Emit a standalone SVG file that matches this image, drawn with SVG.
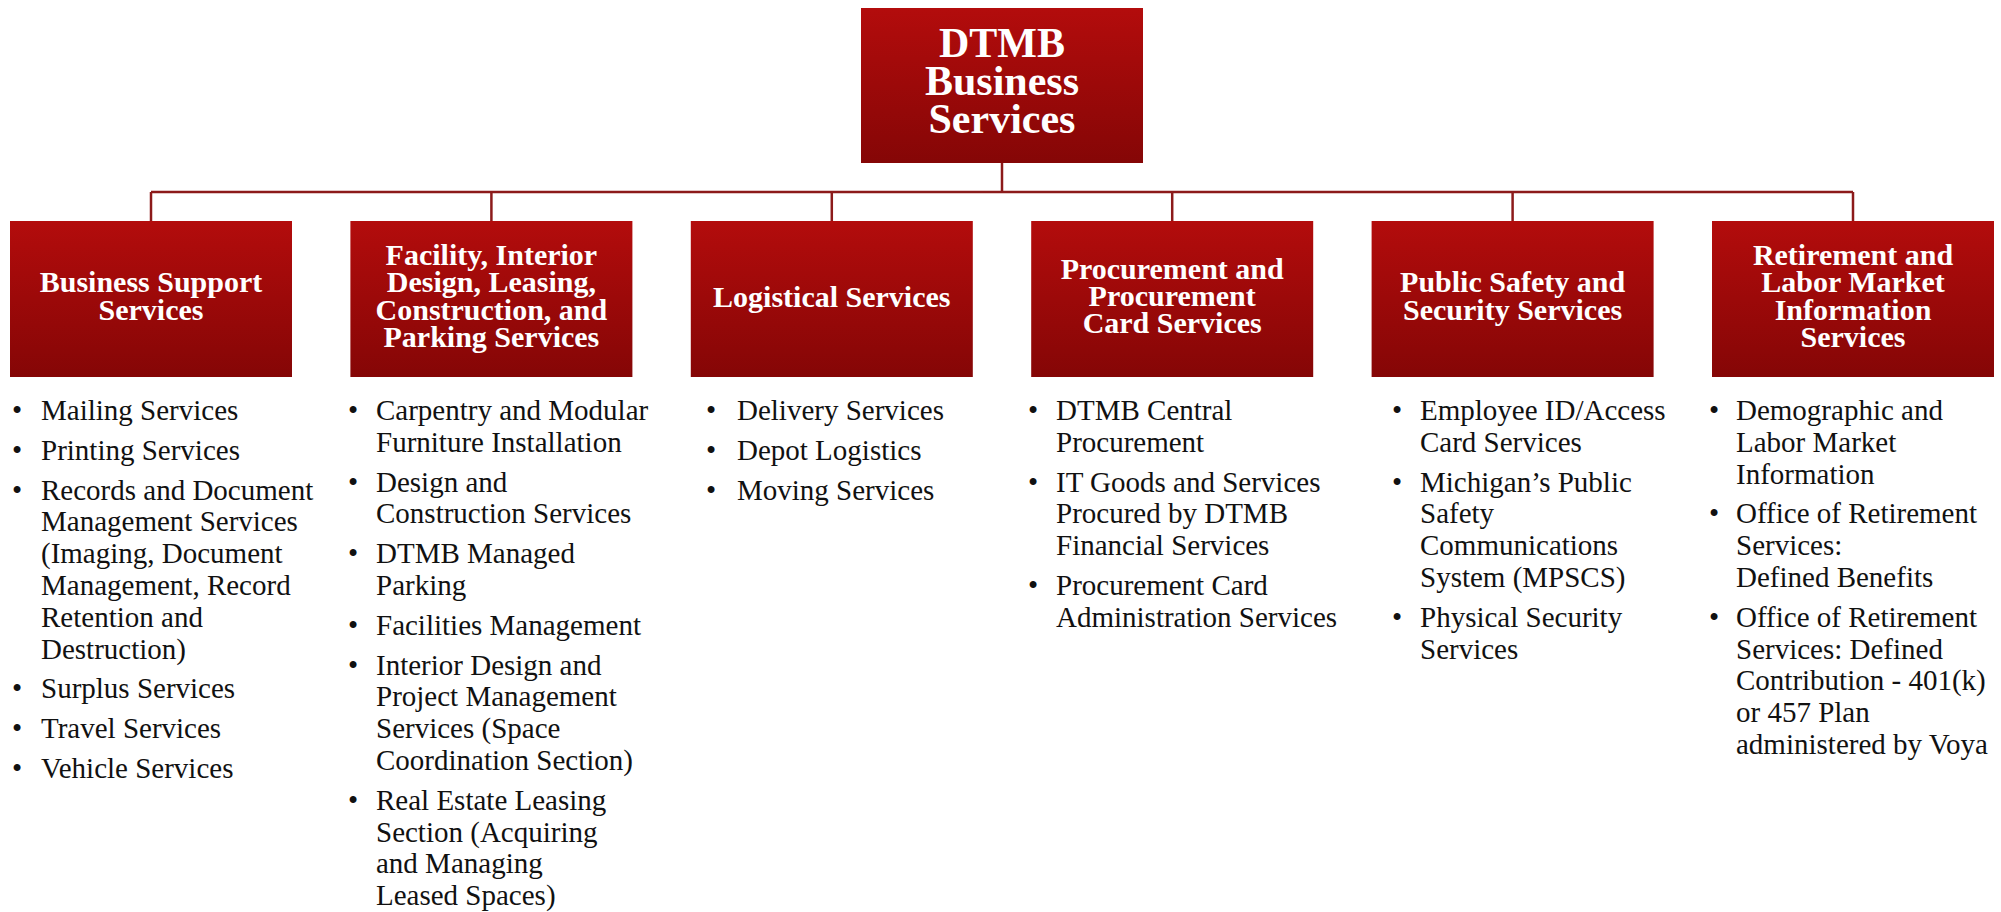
<svg xmlns="http://www.w3.org/2000/svg" width="2001" height="912" viewBox="0 0 2001 912">
  <defs>
    <linearGradient id="boxFill" x1="0" y1="0" x2="0" y2="1">
      <stop offset="0" stop-color="#b30c0c"/>
      <stop offset="1" stop-color="#850606"/>
    </linearGradient>
  </defs>
  <style>
    .box { fill: url(#boxFill); }
    .link { stroke: #8c1a1a; stroke-width: 2.5; fill: none; }
    .title { font-family: "Liberation Serif", "Times New Roman", serif; font-weight: bold; fill: #ffffff; text-anchor: middle; }
    .top { font-size: 42px; }
    .head { font-size: 30px; }
    .item { font-family: "Liberation Serif", "Times New Roman", serif; font-size: 29px; fill: #111111; }
    .dot { font-family: "Liberation Serif", "Times New Roman", serif; font-size: 29px; fill: #111111; text-anchor: middle; }
  </style>
  <rect width="2001" height="912" fill="#ffffff"/>

  <!-- connectors -->
  <g id="connectors">
    <path class="link" d="M1002 163 V192"/>
    <path class="link" d="M151 192 H1853"/>
    <path class="link" d="M151 192 V221"/>
    <path class="link" d="M491.4 192 V221"/>
    <path class="link" d="M831.8 192 V221"/>
    <path class="link" d="M1172.2 192 V221"/>
    <path class="link" d="M1512.6 192 V221"/>
    <path class="link" d="M1853 192 V221"/>
  </g>

  <!-- root -->
  <g id="root">
    <rect class="box" x="861" y="8" width="282" height="155"/>
    <text class="title top" x="1002" y="57">DTMB</text>
    <text class="title top" x="1002" y="95">Business</text>
    <text class="title top" x="1002" y="133">Services</text>
  </g>

  <!-- Business Support Services -->
  <g id="business-support">
    <rect class="box" x="10" y="221" width="282" height="156"/>
    <text class="title head" x="151" y="292">Business Support</text>
    <text class="title head" x="151" y="320">Services</text>
    <g class="dot">
      <text x="17" y="420">•</text><text x="17" y="459.8">•</text><text x="17" y="499.6">•</text>
      <text x="17" y="698.4">•</text><text x="17" y="738.2">•</text><text x="17" y="778">•</text>
    </g>
    <g class="item">
      <text x="41" y="420">Mailing Services</text>
      <text x="41" y="459.8">Printing Services</text>
      <text x="41" y="499.6">Records and Document</text>
      <text x="41" y="531.4">Management Services</text>
      <text x="41" y="563.2">(Imaging, Document</text>
      <text x="41" y="595">Management, Record</text>
      <text x="41" y="626.8">Retention and</text>
      <text x="41" y="658.6">Destruction)</text>
      <text x="41" y="698.4">Surplus Services</text>
      <text x="41" y="738.2">Travel Services</text>
      <text x="41" y="778">Vehicle Services</text>
    </g>
  </g>

  <!-- Facility, Interior Design, Leasing, Construction, and Parking Services -->
  <g id="facility">
    <rect class="box" x="350.4" y="221" width="282" height="156"/>
    <text class="title head" x="491.4" y="265">Facility, Interior</text>
    <text class="title head" x="491.4" y="292">Design, Leasing,</text>
    <text class="title head" x="491.4" y="320">Construction, and</text>
    <text class="title head" x="491.4" y="347">Parking Services</text>
    <g class="dot">
      <text x="353" y="420">•</text><text x="353" y="491.6">•</text><text x="353" y="563.2">•</text>
      <text x="353" y="634.8">•</text><text x="353" y="674.6">•</text><text x="353" y="809.8">•</text>
    </g>
    <g class="item">
      <text x="376" y="420">Carpentry and Modular</text>
      <text x="376" y="451.8">Furniture Installation</text>
      <text x="376" y="491.6">Design and</text>
      <text x="376" y="523.4">Construction Services</text>
      <text x="376" y="563.2">DTMB Managed</text>
      <text x="376" y="595">Parking</text>
      <text x="376" y="634.8">Facilities Management</text>
      <text x="376" y="674.6">Interior Design and</text>
      <text x="376" y="706.4">Project Management</text>
      <text x="376" y="738.2">Services (Space</text>
      <text x="376" y="770">Coordination Section)</text>
      <text x="376" y="809.8">Real Estate Leasing</text>
      <text x="376" y="841.6">Section (Acquiring</text>
      <text x="376" y="873.4">and Managing</text>
      <text x="376" y="905.2">Leased Spaces)</text>
    </g>
  </g>

  <!-- Logistical Services -->
  <g id="logistical">
    <rect class="box" x="690.8" y="221" width="282" height="156"/>
    <text class="title head" x="831.8" y="307">Logistical Services</text>
    <g class="dot">
      <text x="711" y="420">•</text><text x="711" y="459.8">•</text><text x="711" y="499.6">•</text>
    </g>
    <g class="item">
      <text x="737" y="420">Delivery Services</text>
      <text x="737" y="459.8">Depot Logistics</text>
      <text x="737" y="499.6">Moving Services</text>
    </g>
  </g>

  <!-- Procurement and Procurement Card Services -->
  <g id="procurement">
    <rect class="box" x="1031.2" y="221" width="282" height="156"/>
    <text class="title head" x="1172.2" y="279">Procurement and</text>
    <text class="title head" x="1172.2" y="306">Procurement</text>
    <text class="title head" x="1172.2" y="333">Card Services</text>
    <g class="dot">
      <text x="1033" y="420">•</text><text x="1033" y="491.6">•</text><text x="1033" y="595">•</text>
    </g>
    <g class="item">
      <text x="1056" y="420">DTMB Central</text>
      <text x="1056" y="451.8">Procurement</text>
      <text x="1056" y="491.6">IT Goods and Services</text>
      <text x="1056" y="523.4">Procured by DTMB</text>
      <text x="1056" y="555.2">Financial Services</text>
      <text x="1056" y="595">Procurement Card</text>
      <text x="1056" y="626.8">Administration Services</text>
    </g>
  </g>

  <!-- Public Safety and Security Services -->
  <g id="public-safety">
    <rect class="box" x="1371.6" y="221" width="282" height="156"/>
    <text class="title head" x="1512.6" y="292">Public Safety and</text>
    <text class="title head" x="1512.6" y="320">Security Services</text>
    <g class="dot">
      <text x="1397" y="420">•</text><text x="1397" y="491.6">•</text><text x="1397" y="626.8">•</text>
    </g>
    <g class="item">
      <text x="1420" y="420">Employee ID/Access</text>
      <text x="1420" y="451.8">Card Services</text>
      <text x="1420" y="491.6">Michigan’s Public</text>
      <text x="1420" y="523.4">Safety</text>
      <text x="1420" y="555.2">Communications</text>
      <text x="1420" y="587">System (MPSCS)</text>
      <text x="1420" y="626.8">Physical Security</text>
      <text x="1420" y="658.6">Services</text>
    </g>
  </g>

  <!-- Retirement and Labor Market Information Services -->
  <g id="retirement">
    <rect class="box" x="1712" y="221" width="282" height="156"/>
    <text class="title head" x="1853" y="265">Retirement and</text>
    <text class="title head" x="1853" y="292">Labor Market</text>
    <text class="title head" x="1853" y="320">Information</text>
    <text class="title head" x="1853" y="347">Services</text>
    <g class="dot">
      <text x="1714" y="420">•</text><text x="1714" y="523.4">•</text><text x="1714" y="626.8">•</text>
    </g>
    <g class="item">
      <text x="1736" y="420">Demographic and</text>
      <text x="1736" y="451.8">Labor Market</text>
      <text x="1736" y="483.6">Information</text>
      <text x="1736" y="523.4">Office of Retirement</text>
      <text x="1736" y="555.2">Services:</text>
      <text x="1736" y="587">Defined Benefits</text>
      <text x="1736" y="626.8">Office of Retirement</text>
      <text x="1736" y="658.6">Services: Defined</text>
      <text x="1736" y="690.4">Contribution - 401(k)</text>
      <text x="1736" y="722.2">or 457 Plan</text>
      <text x="1736" y="754">administered by Voya</text>
    </g>
  </g>
</svg>
